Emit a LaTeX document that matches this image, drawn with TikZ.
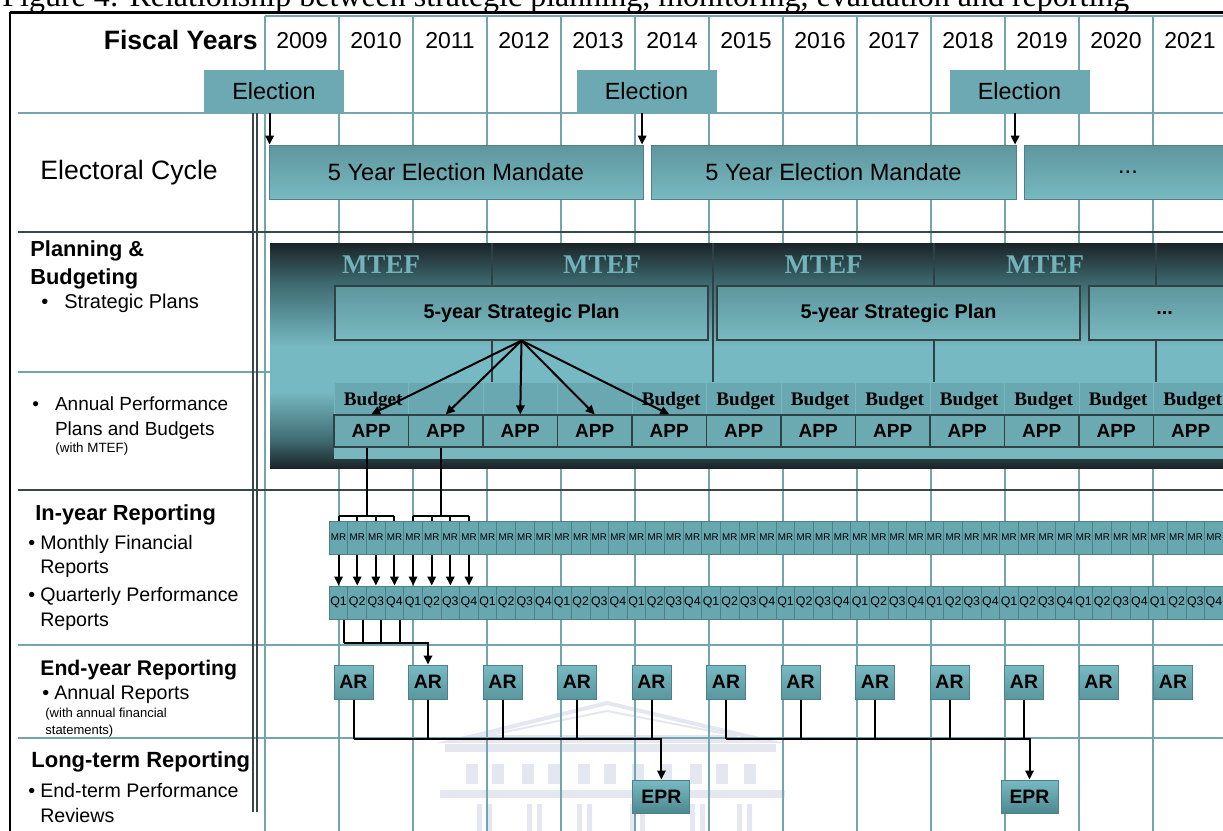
\documentclass[tikz,border=0pt]{standalone}
\usepackage{fontspec}
\setmainfont{Liberation Sans}
\newfontfamily\capfont{Liberation Serif}
\usetikzlibrary{arrows.meta, calc}

\definecolor{gridteal}{HTML}{72A5AD}
\definecolor{darkline}{HTML}{3B4649}
\definecolor{elecfill}{HTML}{6CA9B2}
\definecolor{mandtop}{HTML}{5F969D}
\definecolor{mandbot}{HTML}{78B9C2}
\definecolor{boxedge}{HTML}{4E8088}
\definecolor{banddark}{HTML}{1A2427}
\definecolor{bandmid}{HTML}{3E6A70}
\definecolor{bandlight}{HTML}{77B9C2}
\definecolor{mteftext}{HTML}{72B2BA}
\definecolor{spedge}{HTML}{2F4144}
\definecolor{budgetfill}{HTML}{69A8B0}
\definecolor{appfill}{HTML}{6CAAB2}
\definecolor{stripfill}{HTML}{79B7BF}
\definecolor{cellfill}{HTML}{67A7AF}
\definecolor{artop}{HTML}{78BAC3}
\definecolor{arbot}{HTML}{5A979F}
\definecolor{eprbot}{HTML}{4E8991}
\definecolor{wmark}{HTML}{E5E7F0}

\pgfdeclareverticalshading{bandshade}{100bp}{color(0bp)=(banddark); color(25bp)=(banddark); color(31bp)=(bandmid); color(42bp)=(bandlight); color(52bp)=(bandlight); color(66bp)=(bandmid); color(75bp)=(banddark); color(100bp)=(banddark)}

\begin{document}
\begin{tikzpicture}[x=0.5pt, y=-0.5pt,
    gline/.style={draw=gridteal, line width=0.9pt},
    dline/.style={draw=darkline, line width=0.8pt},
    lbl/.style={inner sep=0, align=left},
    yr/.style={inner sep=0, font=\fontsize{11.5}{13}\selectfont},
    elect/.style={fill=elecfill, minimum width=70pt, minimum height=21.5pt, inner sep=0, font=\fontsize{11.7}{13}\selectfont},
    mandate/.style={top color=mandtop, bottom color=mandbot, draw=boxedge, line width=0.4pt, minimum height=27pt, inner sep=0, font=\fontsize{11.8}{13}\selectfont},
    stratbox/.style={top color=mandtop, bottom color=mandbot, draw=spedge, line width=0.6pt, minimum height=27pt, inner sep=0, font=\bfseries\fontsize{9.9}{11}\selectfont},
    mtef/.style={inner sep=0, text=mteftext, font=\capfont\bfseries\fontsize{13.5}{15}\selectfont},
    budget/.style={inner sep=0, font=\capfont\bfseries\fontsize{9.6}{11}\selectfont},
    budgetcell/.style={fill=budgetfill, draw=stripfill, line width=0.4pt},
    appcell/.style={fill=appfill, draw=spedge, line width=0.6pt, minimum width=37.25pt, minimum height=16pt, inner sep=0, font=\bfseries\fontsize{9.5}{11}\selectfont},
    mrcell/.style={fill=cellfill, draw=boxedge, line width=0.5pt, minimum width=9.31pt, minimum height=16.5pt, inner sep=0},
    arbox/.style={top color=artop, bottom color=arbot, draw=boxedge, line width=0.5pt, minimum height=17pt, inner sep=0, font=\bfseries\fontsize{9.7}{11}\selectfont},
    conn/.style={line width=1pt},
    arr/.style={conn, -{Triangle[length=4.5pt, width=4.2pt]}}
  ]
  \useasboundingbox (0,0) rectangle (1223,831);
  \clip (0,0) rectangle (1223,831);

  % faint watermark
  \begin{scope}[wmark]
    \draw[line width=2pt] (453,741) -- (607,703) -- (768,741) -- cycle;
    \draw[line width=1pt] (485,736) -- (607,711) -- (737,736) -- cycle;
    \fill (445,744) rectangle (776,752);
    \foreach \x in {466,492,522,548,578,604,632,660,690,716,744} \fill (\x,764) rectangle (\x+12,784);
    \fill (440,790) rectangle (785,798);
    \foreach \x in {477,527,577,630,690,737} \fill (\x,804) rectangle (\x+5,831) (\x+10,804) rectangle (\x+15,831);
  \end{scope}

  % caption (cut by the top edge)
  \node[lbl, anchor=base west, font=\capfont\fontsize{16}{18}\selectfont] (cap) at (2,6) {Figure 4: Relationship between strategic planning, monitoring, evaluation and reporting};

  % grid and frame
  \foreach \k in {0,...,12} \draw[gline] (265+74*\k,16) -- (265+74*\k,831);
  \draw[gline] (265,16) -- (1223,16);
  \foreach \y in {113,645,738} \draw[gline] (18,\y) -- (1223,\y);
  \draw[gline] (18,372) -- (270,372);
  \foreach \y in {232,490} \draw[dline] (18,\y) -- (1223,\y);
  \draw[dline] (253,113) -- (253,812) (257,113) -- (257,812);
  \draw[line width=1pt] (10,831) -- (10,12);
  \draw[line width=1.5pt] (10,12) -- (1223,12);

  % header
  \node[lbl, anchor=base east, font=\bfseries\fontsize{13.3}{15}\selectfont] (fy) at (258,49.5) {Fiscal Years};
  \foreach \k in {0,...,12} {
    \pgfmathtruncatemacro\yy{2009+\k}
    \node[yr, anchor=base] (y\yy) at (302+74*\k,48.5) {\yy};
  }

  % electoral cycle
  \node[elect] (e1) at (274,91) {Election};
  \node[elect] (e2) at (646.5,91) {Election};
  \node[elect] (e3) at (1019.5,91) {Election};
  \node[lbl, anchor=base west, font=\fontsize{13.3}{15}\selectfont] (ec) at (40,179.5) {Electoral Cycle};
  \node[mandate, minimum width=187pt] (m1) at (456,172) {5 Year Election Mandate};
  \node[mandate, minimum width=182.5pt] (m2) at (833.5,172) {5 Year Election Mandate};
  \node[mandate, minimum width=104pt] (m3) at (1128,172) {...};
  \foreach \i in {1,2,3} \draw[arr] ([xshift=-2.2pt]e\i.south) -- ([xshift=-2.2pt]e\i.south |- m1.north);

  % planning and budgeting band
  \shade[shading=bandshade] (270,243) rectangle (1240,468);
  \foreach \x in {492,713,934,1156} \draw[spedge, line width=0.6pt] (\x,243) -- (\x,382);
  \foreach \x [count=\i] in {381,602,823.5,1045} \node[mtef, anchor=base] (mtef\i) at (\x,273) {MTEF};
  \node[stratbox, minimum width=186.5pt] (sp1) at (521.5,313) {5-year Strategic Plan};
  \node[stratbox, minimum width=181.5pt] (sp2) at (898.5,313) {5-year Strategic Plan};
  \node[stratbox, minimum width=75.5pt] (sp3) at (1164.5,313) {...};

  \fill[stripfill] (334,447) rectangle (1240,459);
  \foreach \k in {1,...,12} {
    \pgfmathsetmacro\cx{371.25+74.5*(\k-1)}
    \draw[budgetcell] (\cx-37.25,382) rectangle (\cx+37.25,415);
    \node[appcell] (app\k) at (\cx,431) {APP};
  }
  \foreach \k in {1,5,6,...,12} \node[budget, anchor=base] (bud\k) at (373.25+74.5*\k-74.5,405) {Budget};
  \foreach \k in {1,...,5} \draw[arr] (sp1.south) -- (app\k.north);

  % in-year reporting
  \foreach \i in {1,...,48} {
    \pgfmathsetmacro\cx{338.6+18.625*(\i-1)}
    \pgfmathtruncatemacro\qn{mod(\i-1,4)+1}
    \node[mrcell, font=\fontsize{4.9}{5}\selectfont] (mr\i) at (\cx,537.5) {MR};
    \node[mrcell, font=\fontsize{6.2}{7}\selectfont] (q\i) at (\cx,602.5) {Q\qn};
  }
  \foreach \a/\m/\n in {1/1/4, 2/5/8} {
    \coordinate (bus\a) at ($(mr\m.north)!0.5!(mr\n.north)+(0,-5)$);
    \draw[conn] (app\a.south -| bus\a) -- (bus\a);
    \draw[conn] ([yshift=2.5pt]mr\m.north) -- ([yshift=2.5pt]mr\n.north);
    \foreach \j in {\m,...,\n} \draw[conn] (mr\j.north) -- ++(0,-5);
  }
  \foreach \i in {1,...,8} \draw[arr] (mr\i.south) -- (q\i.north);

  % end-year and long-term reporting
  \foreach \k in {1,...,12} \node[arbox, minimum width=19.5pt] (ar\k) at (353.5+74.5*\k-74.5,682) {AR};
  \node[arbox, bottom color=eprbot, minimum width=28.5pt, minimum height=16.5pt] (epr1) at (661.4,796.5) {EPR};
  \node[arbox, bottom color=eprbot, minimum width=28.5pt, minimum height=16.5pt] (epr2) at (1029.5,796.5) {EPR};

  \foreach \i in {1,...,4} \draw[conn] ([xshift=2.75pt]q\i.south) -- ++(0,23);
  \draw[arr] ([xshift=2.75pt]q1.south) ++(0,23) -| (ar2.north);
  \foreach \j in {1,...,10} \draw[conn] (ar\j.south) -- ++(0,39);
  \draw[arr] (ar1.south) ++(0,39) -| (epr1.north);
  \draw[arr] (ar6.south) ++(0,39) -| (epr2.north);

  % row labels
  \node[lbl, anchor=north west, font=\bfseries\fontsize{10.9}{14}\selectfont] (pb) at (30,240) {Planning \&\\Budgeting};
  \node[lbl, anchor=base west, font=\fontsize{10}{12}\selectfont] (spl) at (41,308) {\textbullet\hspace{8pt}Strategic Plans};
  \node[lbl, anchor=north west, font=\fontsize{9.5}{12.5}\selectfont] (apb) at (32,396) {\textbullet\hspace{8pt}Annual Performance\\\hphantom{\textbullet\hspace{8pt}}Plans and Budgets};
  \node[lbl, anchor=base west, font=\fontsize{6.7}{8}\selectfont] (mtefn) at (55,452) {(with MTEF)};
  \node[lbl, anchor=base west, font=\bfseries\fontsize{10.9}{13}\selectfont] (iyr) at (35,520) {In-year Reporting};
  \node[lbl, anchor=north west, font=\fontsize{9.8}{12}\selectfont] (mfr) at (28,534.7) {\textbullet\hspace{2.5pt}Monthly Financial\\\hphantom{\textbullet\hspace{2.5pt}}Reports};
  \node[lbl, anchor=north west, font=\fontsize{9.8}{12.5}\selectfont] (qpr) at (28,586.7) {\textbullet\hspace{2.5pt}Quarterly Performance\\\hphantom{\textbullet\hspace{2.5pt}}Reports};
  \node[lbl, anchor=base west, font=\bfseries\fontsize{10.6}{13}\selectfont] (eyr) at (40,675.6) {End-year Reporting};
  \node[lbl, anchor=base west, font=\fontsize{9.8}{12}\selectfont] (anr) at (42,699) {\textbullet\hspace{2.5pt}Annual Reports};
  \node[lbl, anchor=north west, font=\fontsize{6.5}{8.5}\selectfont] (afs) at (45,707.5) {(with annual financial\\statements)};
  \node[lbl, anchor=base west, font=\bfseries\fontsize{11}{13}\selectfont] (ltr) at (31,767) {Long-term Reporting};
  \node[lbl, anchor=north west, font=\fontsize{9.8}{12.5}\selectfont] (etr) at (28,782.7) {\textbullet\hspace{2.5pt}End-term Performance\\\hphantom{\textbullet\hspace{2.5pt}}Reviews};
\end{tikzpicture}
\end{document}
